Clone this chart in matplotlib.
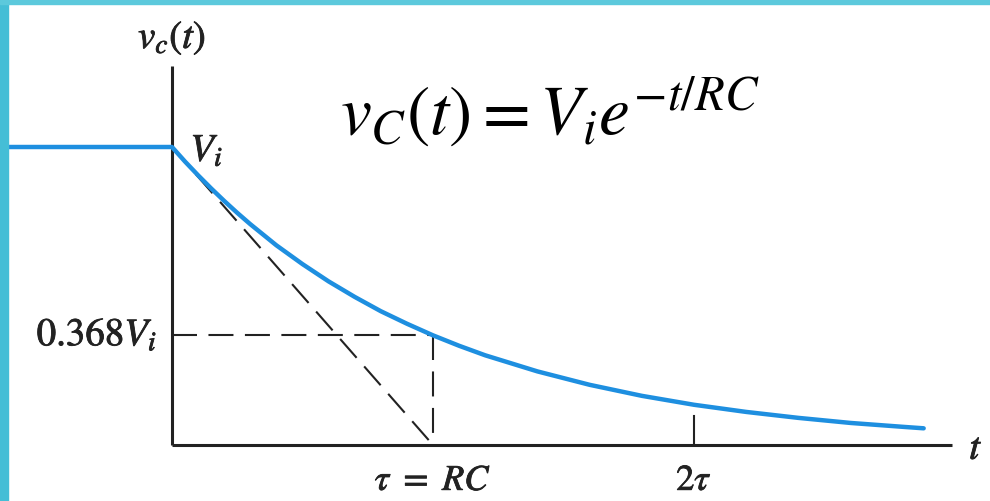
import matplotlib.pyplot as plt
import matplotlib.patheffects as pe
from matplotlib.patches import Rectangle

plt.rcParams['mathtext.fontset'] = 'stix'
plt.rcParams['font.family'] = 'STIXGeneral'

# capacitor voltage, time in units of tau, voltage in units of Vi
t_before = [-0.63, 0.0]
v_before = [1.0, 1.0]
t_decay = [0.0, 0.05, 0.1, 0.15, 0.2, 0.25, 0.3, 0.4, 0.5, 0.6, 0.7, 0.8,
           0.9, 1.0, 1.1, 1.2, 1.4, 1.6, 1.8, 2.0, 2.2, 2.4, 2.6, 2.8, 2.88]
v_decay = [1.000, 0.951, 0.905, 0.861, 0.819, 0.779, 0.741, 0.670, 0.607,
           0.549, 0.497, 0.449, 0.407, 0.368, 0.333, 0.301, 0.247, 0.202,
           0.165, 0.135, 0.111, 0.091, 0.074, 0.061, 0.056]
tau = 1.0
v_tau = 0.368
tick_2tau = 2.0

fig = plt.figure(figsize=(9.9, 5.01), dpi=100)
ax = fig.add_axes([0, 0, 1, 1])
ax.set_xlim(-172 / 261, (990 - 172) / 261)
ax.set_ylim(-56 / 298, 445 / 298)
ax.axis('off')

# slide frame
fig.patches.append(Rectangle((0, 0), 8 / 990, 1, transform=fig.transFigure,
                             color='#45bed6', zorder=0))
fig.patches.append(Rectangle((0, 1 - 4 / 501), 1, 4 / 501, transform=fig.transFigure,
                             color='#5cc9dc', zorder=0))

# axes
ax.plot([0, 0], [0, 1.272], color='#222222', lw=2.2, solid_capstyle='butt')
ax.plot([0, 2.99], [0, 0], color='#222222', lw=2.2, solid_capstyle='butt')
ax.plot([tick_2tau, tick_2tau], [0, 0.097], color='#222222', lw=1.5)

# construction lines
dash = dict(color='#222222', lw=1.5, dashes=(12, 5.5))
ax.plot([0, tau], [1, 0], **dash)
ax.plot([0, tau], [v_tau, v_tau], **dash)
ax.plot([tau, tau], [v_tau, 0], **dash)

# curve
ax.plot(t_before, v_before, color='#1e8fe0', lw=3.2, solid_capstyle='butt')
ax.plot(t_decay, v_decay, color='#1e8fe0', lw=3.2, solid_capstyle='round')

# labels
heavy = [pe.withStroke(linewidth=0.6, foreground='#222222')]
lbl = dict(fontsize=28, color='#222222', path_effects=heavy)
ax.text(0, 1.366, r'$v_c(t)$', ha='center', va='center', **lbl)
ax.text(0.07, 0.985, r'$V_i$', ha='left', va='center', **lbl)
ax.text(-0.057, v_tau, r'$0.368V_i$', ha='right', va='center', **lbl)
ax.text(3.08, -0.015, r'$t$', ha='center', va='center', **lbl)
lbl['fontsize'] = 26
ax.text(tau, -0.122, r'$\tau\ =\ RC$', ha='center', va='center', **lbl)
ax.text(tick_2tau, -0.122, r'$2\tau$', ha='center', va='center', **lbl)
ax.text(1.448, 1.117, r'$v_C\left(t\right) = V_i e^{-t/RC}$', fontsize=50,
        ha='center', va='center')

fig.savefig('out.png', dpi=100)
